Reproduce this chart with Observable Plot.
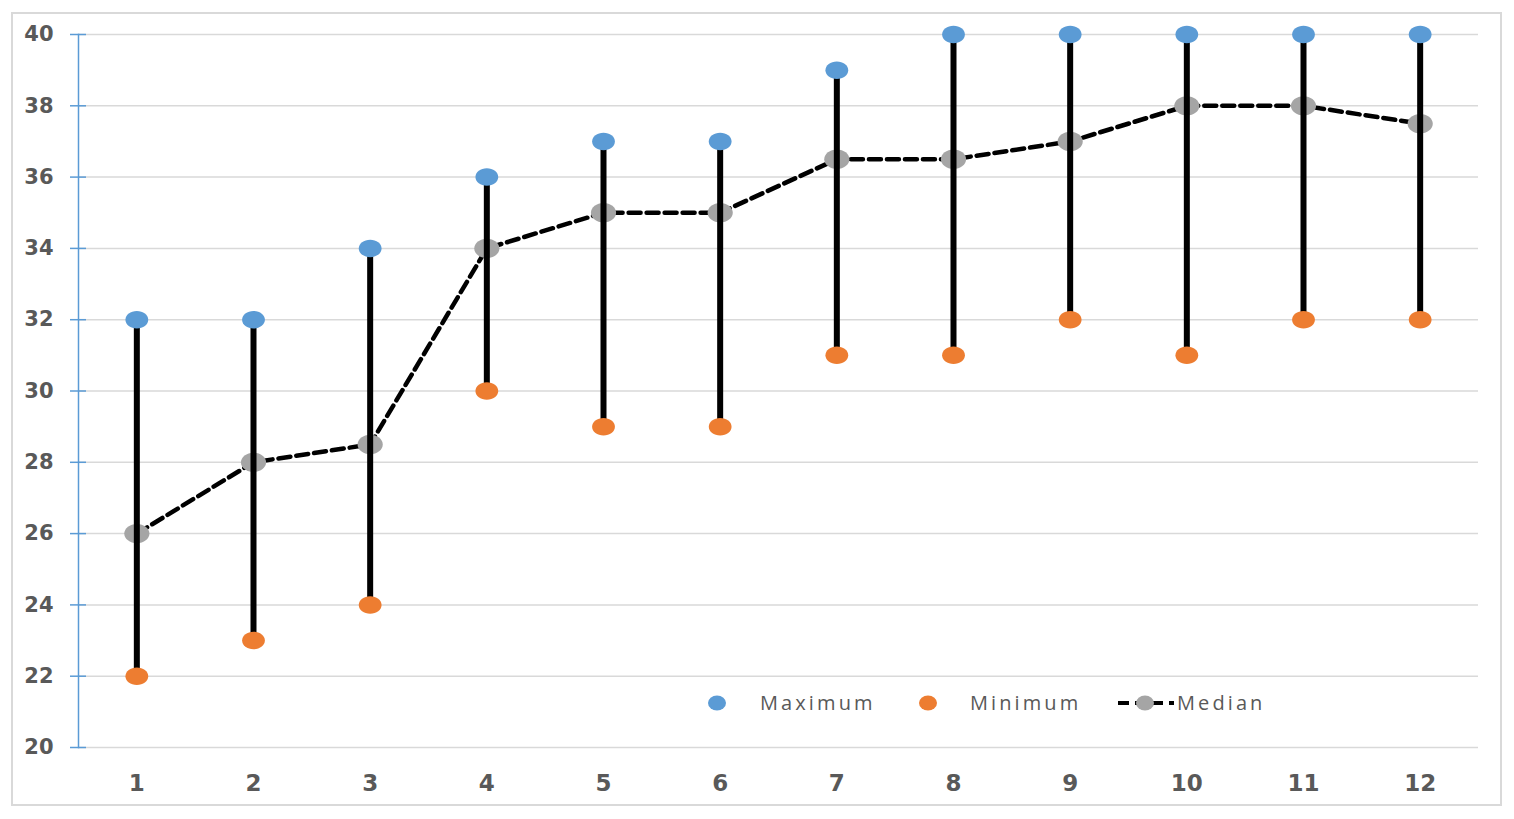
<!DOCTYPE html>
<html>
<head>
<meta charset="utf-8">
<script src="https://cdn.jsdelivr.net/npm/d3@7"></script>
<script src="https://cdn.jsdelivr.net/npm/@observablehq/plot@0.6"></script>
<style>
  html, body { margin: 0; padding: 0; background: #fff; }
  #frame { position: absolute; left: 11px; top: 12px; width: 1487px; height: 790px; border: 2px solid #d9d9d9; background: #fff; }
  #legend { position: absolute; left: 700px; top: 688px; height: 30px; font-family: "Open Sans", sans-serif; font-size: 20px; letter-spacing: 3.1px; color: #595959; }
  #legend .item { position: absolute; top: 0; white-space: nowrap; line-height: 30px; }
  #legend svg { position: absolute; top: 0; }
</style>
</head>
<body>
<div id="frame">
  <div id="chart"></div>
</div>
<div id="legend"></div>
<script>
const months = [1, 2, 3, 4, 5, 6, 7, 8, 9, 10, 11, 12];
const maximum = [32, 32, 34, 36, 37, 37, 39, 40, 40, 40, 40, 40];
const minimum = [22, 23, 24, 30, 29, 29, 31, 31, 32, 31, 32, 32];
const median = [26, 28, 28.5, 34, 35, 35, 36.5, 36.5, 37, 38, 38, 37.5];
const yTicks = [20, 22, 24, 26, 28, 30, 32, 34, 36, 38, 40];
const seriesNames = ["Maximum", "Minimum", "Median"];
const colors = { Maximum: "#5b9bd5", Minimum: "#ed7d31", Median: "#a5a5a5" };

const data = months.map((m, i) => ({ m, max: maximum[i], min: minimum[i], med: median[i] }));

// ellipse symbol (wider than tall)
function ellipseSymbol(sx, sy) {
  return {
    draw(ctx, size) {
      const r = Math.sqrt(size / Math.PI);
      const rx = r * sx, ry = r * sy, k = 0.5523;
      ctx.moveTo(rx, 0);
      ctx.bezierCurveTo(rx, ry * k, rx * k, ry, 0, ry);
      ctx.bezierCurveTo(-rx * k, ry, -rx, ry * k, -rx, 0);
      ctx.bezierCurveTo(-rx, -ry * k, -rx * k, -ry, 0, -ry);
      ctx.bezierCurveTo(rx * k, -ry, rx, -ry * k, rx, 0);
      ctx.closePath();
    }
  };
}
const ell = ellipseSymbol(1.2, 0.92);

const chart = Plot.plot({
  width: 1487,
  height: 790,
  marginLeft: 65,
  marginRight: 22,
  marginTop: 20,
  marginBottom: 57,
  style: { fontFamily: "DejaVu Sans, sans-serif", background: "transparent" },
  x: { type: "point", domain: months, padding: 0.5, round: false, label: null },
  y: { domain: [20, 40], label: null },
  marks: [
    Plot.gridY(yTicks, { stroke: "#d9d9d9", strokeOpacity: 1, strokeWidth: 1.5 }),
    Plot.frame({ anchor: "left", stroke: "#5b9bd5", strokeWidth: 1.5 }),
    Plot.axisY(yTicks, { tickSize: 16, dx: 8, tickFormat: () => "", stroke: "#5b9bd5", strokeWidth: 1.5 }),
    Plot.axisY(yTicks, { tickSize: 0, tickPadding: 25, fontSize: 21, fontWeight: "bold", fill: "#595959", label: null }),
    Plot.axisX(months, { tickSize: 0, tickPadding: 27, fontSize: 23, fontWeight: "bold", fill: "#595959", label: null }),
    Plot.line(data, { x: "m", y: "med", stroke: "#000", strokeWidth: 4.5, strokeDasharray: "12,6" }),
    Plot.dot(data, { x: "m", y: "med", r: 10.5, symbol: ell, fill: colors.Median, stroke: "none" }),
    Plot.ruleX(data, { x: "m", y1: "min", y2: "max", stroke: "#000", strokeWidth: 6 }),
    Plot.dot(data, { x: "m", y: "max", r: 9.5, symbol: ell, fill: colors.Maximum, stroke: "none" }),
    Plot.dot(data, { x: "m", y: "min", r: 9.5, symbol: ell, fill: colors.Minimum, stroke: "none" })
  ]
});
document.getElementById("chart").appendChild(chart);

// legend overlay (inside plot area, as in the reference)
const legend = document.getElementById("legend");
const items = [
  { name: seriesNames[0], marker: 17, text: 60 },
  { name: seriesNames[1], marker: 228, text: 270 },
  { name: seriesNames[2], marker: 418, text: 477 }
];
items.forEach((it, i) => {
  const svg = d3.create("svg").attr("width", 60).attr("height", 30).style("left", (it.marker - (i === 2 ? 0 : 10)) + "px");
  if (i === 2) {
    svg.append("line").attr("x1", 0).attr("x2", 56).attr("y1", 15).attr("y2", 15)
      .attr("stroke", "#000").attr("stroke-width", 4).attr("stroke-dasharray", "11,6");
    svg.append("ellipse").attr("cx", 27).attr("cy", 15).attr("rx", 9).attr("ry", 7.5).attr("fill", colors.Median);
  } else {
    svg.append("ellipse").attr("cx", 10).attr("cy", 15).attr("rx", 9).attr("ry", 7.5).attr("fill", colors[it.name]);
  }
  legend.appendChild(svg.node());
  const t = document.createElement("div");
  t.className = "item";
  t.style.left = it.text + "px";
  t.textContent = it.name;
  legend.appendChild(t);
});
</script>
</body>
</html>
